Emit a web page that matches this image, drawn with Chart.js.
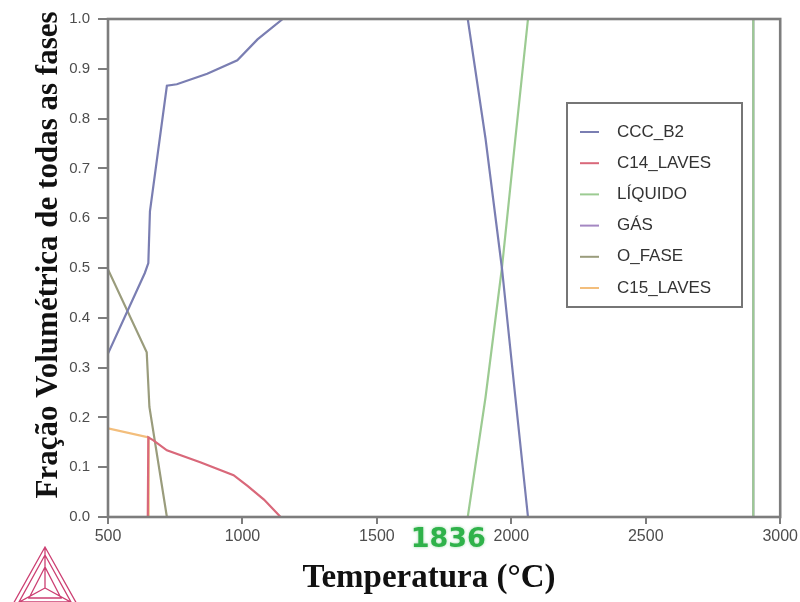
<!DOCTYPE html>
<html>
<head>
<meta charset="utf-8">
<script src="https://cdn.jsdelivr.net/npm/chart.js@4"></script>
<style>
  html, body { margin: 0; padding: 0; background: #fff; }
  #wrap { width: 800px; height: 602px; }
</style>
</head>
<body>
<div id="wrap"><canvas id="chart" width="800" height="602"></canvas></div>
<script>
// phase fractions (temperature in °C, volume fraction)
const phaseNames = ['CCC_B2', 'C14_LAVES', 'LÍQUIDO', 'GÁS', 'O_FASE', 'C15_LAVES'];
const phaseColors = ['#7a7eb2', '#d9687a', '#9ccb92', '#a487c2', '#9a9c7c', '#f3be7c'];

const cccT = [500, 637, 650, 656, 719, 756, 869, 981, 1056, 1150, 1838, 1904, 1965, 2015, 2062];
const cccV = [0.328, 0.49, 0.51, 0.614, 0.866, 0.869, 0.89, 0.917, 0.959, 1.0, 1.0, 0.76, 0.5, 0.24, 0];

const c14T = [648, 650, 669, 719, 843, 967, 1020, 1080, 1142];
const c14V = [0, 0.16, 0.154, 0.134, 0.11, 0.084, 0.062, 0.035, 0];

const liqT = [1838, 1904, 1965, 2015, 2062, 2900, 2900];
const liqV = [0, 0.24, 0.5, 0.76, 1.0, 1.0, 0];

const gasT = [2900, 2900, 3000];
const gasV = [0, 1.0, 1.0];

const ofaseT = [500, 644, 654, 719];
const ofaseV = [0.497, 0.331, 0.221, 0];

const c15T = [500, 651, 651];
const c15V = [0.178, 0.16, 0];

const xTicks = [500, 1000, 1500, 2000, 2500, 3000];
const yTicks = [0, 0.1, 0.2, 0.3, 0.4, 0.5, 0.6, 0.7, 0.8, 0.9, 1.0];
const markedTemp = 1836;

const seriesT = [cccT, c14T, liqT, gasT, ofaseT, c15T];
const seriesV = [cccV, c14V, liqV, gasV, ofaseV, c15V];

function toPoints(ts, vs) {
    return ts.map((t, i) => ({ x: t, y: vs[i] }));
}

const datasets = phaseNames.map((name, i) => ({
    label: name,
    data: toPoints(seriesT[i], seriesV[i]),
    borderColor: phaseColors[i],
    borderWidth: 2.2,
    pointRadius: 0,
    tension: 0,
    fill: false
}));

// frame, tick marks, titles, legend box, marked temperature and logo
const decor = {
    id: 'decor',
    afterDatasetsDraw(chart) {
        const { ctx, chartArea: a, scales: { x, y } } = chart;
        ctx.save();
        ctx.strokeStyle = '#7d7d7d';
        ctx.lineWidth = 2.6;
        ctx.strokeRect(a.left, a.top, a.right - a.left, a.bottom - a.top);
        ctx.lineWidth = 2;
        ctx.beginPath();
        yTicks.forEach(v => {
            const py = Math.round(y.getPixelForValue(v));
            ctx.moveTo(a.left - 10, py);
            ctx.lineTo(a.left, py);
        });
        xTicks.forEach(v => {
            const px = Math.round(x.getPixelForValue(v));
            ctx.moveTo(px, a.bottom);
            ctx.lineTo(px, a.bottom + 7);
        });
        ctx.stroke();

        // legend
        const lx = 567, ly = 103, lw = 175, lh = 204;
        ctx.fillStyle = '#fff';
        ctx.fillRect(lx, ly, lw, lh);
        ctx.strokeStyle = '#767676';
        ctx.lineWidth = 2;
        ctx.strokeRect(lx, ly, lw, lh);
        ctx.font = '17px "Liberation Sans", Arial, sans-serif';
        ctx.textBaseline = 'middle';
        ctx.textAlign = 'left';
        phaseNames.forEach((name, i) => {
            const cy = ly + 29 + i * 31.2;
            ctx.strokeStyle = phaseColors[i];
            ctx.lineWidth = 2;
            ctx.beginPath();
            ctx.moveTo(lx + 13, cy);
            ctx.lineTo(lx + 32, cy);
            ctx.stroke();
            ctx.fillStyle = '#333';
            ctx.fillText(name, lx + 50, cy);
        });

        // titles
        ctx.fillStyle = '#111';
        ctx.font = 'bold 31px "Liberation Serif", "Times New Roman", serif';
        ctx.textAlign = 'center';
        ctx.save();
        ctx.translate(49, 255);
        ctx.rotate(-Math.PI / 2);
        ctx.fillText('Fração Volumétrica de todas as fases', 0, 0);
        ctx.restore();
        ctx.font = 'bold 33px "Liberation Serif", "Times New Roman", serif';
        ctx.fillText('Temperatura (°C)', 429, 578);

        // marked temperature
        ctx.font = 'bold 27px "DejaVu Sans", sans-serif';
        ctx.fillStyle = '#2fb24a';
        ctx.shadowColor = 'rgba(47,178,74,0.5)';
        ctx.shadowBlur = 3;
        ctx.fillText(String(markedTemp), x.getPixelForValue(markedTemp) - 19, 540);
        ctx.shadowBlur = 0;

        // logo
        ctx.strokeStyle = '#cc3f72';
        ctx.lineWidth = 1.3;
        const cx = 45, top = 547, base = 606, half = 33;
        const cyC = 588;
        ctx.beginPath();
        ctx.moveTo(cx, top); ctx.lineTo(cx - half, base); ctx.lineTo(cx + half, base); ctx.closePath();
        ctx.moveTo(cx, top + 8); ctx.lineTo(cx - half + 7, base - 4); ctx.lineTo(cx + half - 7, base - 4); ctx.closePath();
        ctx.moveTo(cx, top); ctx.lineTo(cx, cyC);
        ctx.moveTo(cx - half, base); ctx.lineTo(cx, cyC);
        ctx.moveTo(cx + half, base); ctx.lineTo(cx, cyC);
        ctx.moveTo(cx, top + 20); ctx.lineTo(cx - 16, base - 8); ctx.lineTo(cx + 16, base - 8); ctx.closePath();
        ctx.stroke();
        ctx.restore();
    }
};

new Chart(document.getElementById('chart'), {
    type: 'line',
    data: { datasets },
    options: {
        responsive: false,
        animation: false,
        layout: { padding: { left: 0, right: 16, top: 8, bottom: 0 } },
        plugins: {
            legend: { display: false },
            tooltip: { enabled: false }
        },
        scales: {
            x: {
                type: 'linear',
                min: 500,
                max: 3000,
                afterFit: s => { s.height = 85; },
                afterBuildTicks: s => { s.ticks = xTicks.map(v => ({ value: v })); },
                grid: { display: false },
                border: { display: false },
                ticks: {
                    padding: 2,
                    color: '#4d4d4d',
                    font: { family: '"Liberation Sans", Arial, sans-serif', size: 16 },
                    maxRotation: 0,
                    callback: v => String(v)
                }
            },
            y: {
                min: 0,
                max: 1,
                afterFit: s => { s.width = 108; },
                afterBuildTicks: s => { s.ticks = yTicks.map(v => ({ value: v })); },
                grid: { display: false },
                border: { display: false },
                ticks: {
                    padding: 10,
                    color: '#4d4d4d',
                    font: { family: '"Liberation Sans", Arial, sans-serif', size: 15 },
                    callback: v => v.toFixed(1)
                }
            }
        }
    },
    plugins: [decor]
});
</script>
</body>
</html>
